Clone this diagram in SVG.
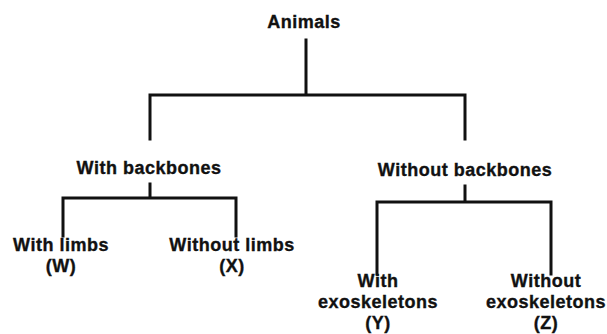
<svg xmlns="http://www.w3.org/2000/svg" width="607" height="334" viewBox="0 0 607 334">
<style>
text{font-family:"Liberation Sans",Arial,sans-serif;font-weight:bold;font-size:18px;fill:#111;stroke:#111;stroke-width:0.35;text-anchor:middle;letter-spacing:0.5px}
.c{fill:none;stroke:#111;stroke-width:3;stroke-linecap:square}
</style>
<rect width="607" height="334" fill="#fff"/>
<g id="connectors" class="c">
<path d="M306 40V95M150 95H465M150 95V139M465 95V139"/>
<path d="M150 184V198M63 198H236M63 198V236M236 198V236"/>
<path d="M465 186V202M377 202H551M377 202V274M551 202V274"/>
</g>
<g id="animals"><text x="304" y="28">Animals</text></g>
<g id="with-backbones"><text x="149" y="174">With backbones</text></g>
<g id="without-backbones"><text x="465" y="176">Without backbones</text></g>
<g id="w"><text x="61" y="251">With limbs</text><text x="61" y="272">(W)</text></g>
<g id="x"><text x="232" y="251">Without limbs</text><text x="232" y="272">(X)</text></g>
<g id="y"><text x="378" y="287">With</text><text x="378" y="308">exoskeletons</text><text x="378" y="329">(Y)</text></g>
<g id="z"><text x="546" y="287">Without</text><text x="546" y="308">exoskeletons</text><text x="546" y="329">(Z)</text></g>
</svg>
